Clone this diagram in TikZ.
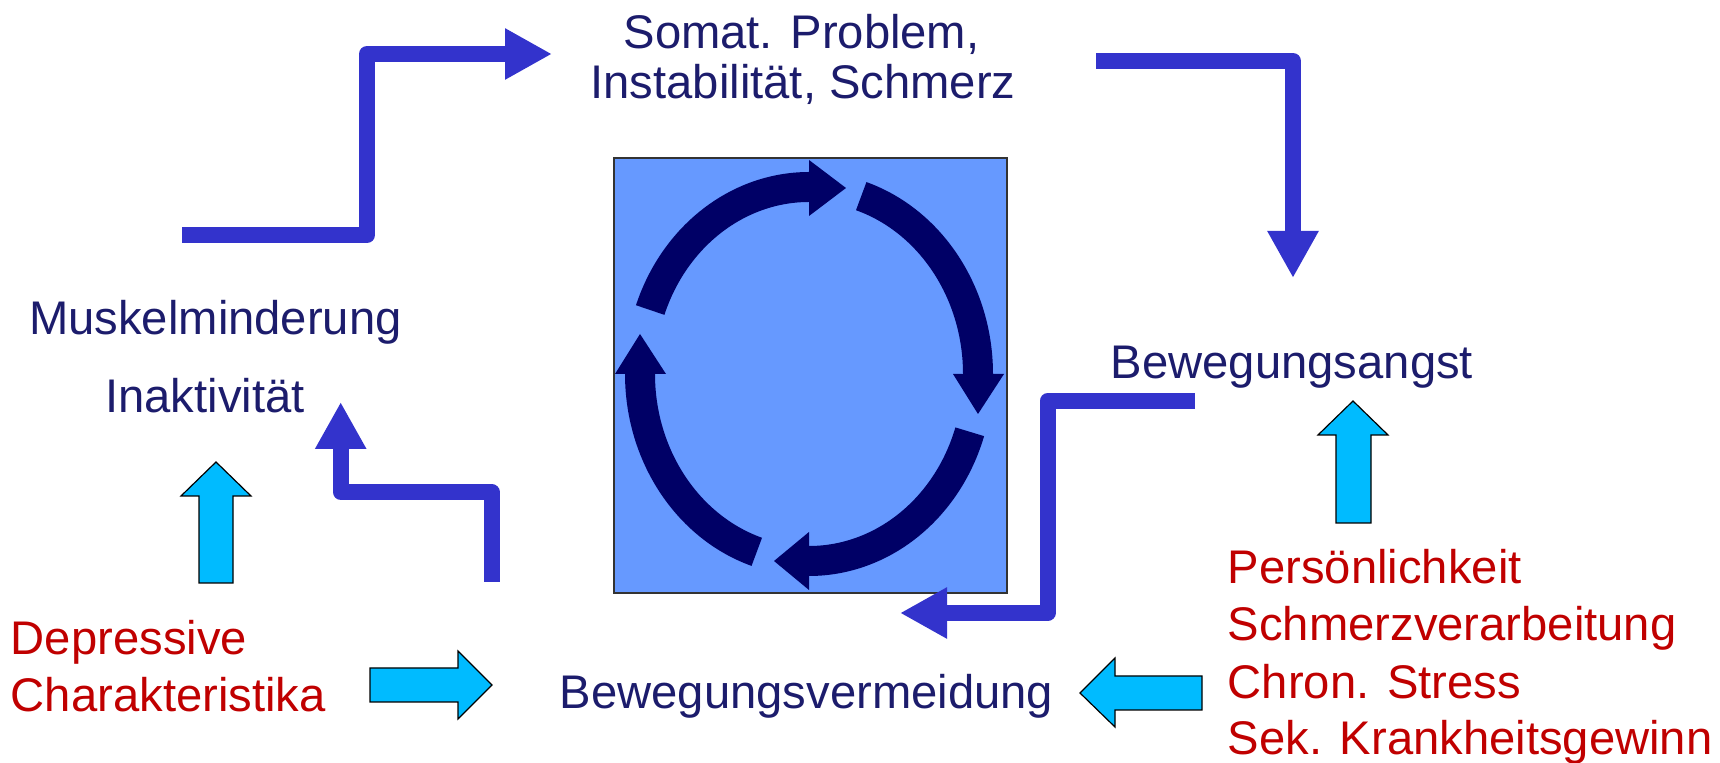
\documentclass[tikz,border=0pt]{standalone}
\usepackage{fontspec}
\setmainfont{Liberation Sans}
\usetikzlibrary{arrows.meta}
\definecolor{txtnavy}{RGB}{28,28,108}
\definecolor{txtred}{RGB}{192,0,0}
\definecolor{flowblue}{RGB}{51,51,204}
\definecolor{cycnavy}{RGB}{0,0,102}
\definecolor{boxblue}{RGB}{102,153,255}
\definecolor{cyanblk}{RGB}{0,187,255}
\begin{document}
\begin{tikzpicture}[x=0.5pt,y=-0.5pt,
  lbl/.style={inner sep=0pt, anchor=base, font=\fontsize{23.6pt}{28pt}\selectfont, text=txtnavy},
  redlbl/.style={inner sep=0pt, anchor=base west, font=\fontsize{23.6pt}{28pt}\selectfont, text=txtred},
  flow/.style={draw=flowblue, line width=8pt, line join=round, -{Triangle[length=23.5pt,width=24pt]}},
  cyc/.style={draw=cycnavy, line width=15pt},
  cychead/.style={fill=cycnavy},
  block/.style={fill=cyanblk, draw=black, line width=0.6pt, line join=miter}]
\useasboundingbox (0,0) rectangle (1720,763);

% central box with cycle
\node (loop) [rectangle, fill=boxblue, draw=black!80, line width=0.8pt, inner sep=0pt,
  minimum width=196.35pt, minimum height=217.5pt] at (810.35,375.8) {};
\coordinate (c) at (809,374);
\draw[cyc] (c) ++(-160:169 and 187) arc[start angle=-160, end angle=-90, x radius=169, y radius=187];
\fill[cychead] (809,160) -- (809,216) -- (846,188) -- cycle;
\draw[cyc] (c) ++(-72:169 and 187) arc[start angle=-72, end angle=0, x radius=169, y radius=187];
\fill[cychead] (953,374) -- (1004,374) -- (978,414) -- cycle;
\draw[cyc] (c) ++(18:169 and 187) arc[start angle=18, end angle=90, x radius=169, y radius=187];
\fill[cychead] (809,532) -- (809,590) -- (774,561) -- cycle;
\draw[cyc] (c) ++(108:169 and 187) arc[start angle=108, end angle=180, x radius=169, y radius=187];
\fill[cychead] (615,374) -- (666,374) -- (640,334) -- cycle;

% labels
\node[lbl] (som1) at (801.5,48.3) {Somat. Problem,};
\node[lbl] (som2) at (803,98.3) {Instabilität, Schmerz};
\node[lbl] (musk) at (215.5,335) {Muskelminderung};
\node[lbl] (inak) at (205,413) {Inaktivität};
\node[lbl] (angst) at (1292,378.3) {Bewegungsangst};
\node[lbl] (verm) at (806.5,708.3) {Bewegungsvermeidung};
\node[redlbl] (dep1) at (10.5,655) {Depressive};
\node[redlbl] (dep2) at (10.5,711.7) {Charakteristika};
\node[redlbl] (pers1) at (1227.5,583.3) {Persönlichkeit};
\node[redlbl] (pers2) at (1227.5,641) {Schmerzverarbeitung};
\node[redlbl] (pers3) at (1227.5,698.3) {Chron. Stress};
\node[redlbl] (pers4) at (1227.5,755) {Sek. Krankheitsgewinn};

% elbow connectors
\coordinate (A0) at (182,235);   \coordinate (A1) at (552,54);
\coordinate (B0) at (1096,61);   \coordinate (B1) at (1293,278);
\coordinate (C0) at (1195,401);  \coordinate (C1) at (900,613);
\coordinate (D0) at (491.5,582); \coordinate (D1) at (340.7,402);
\draw[flow] (A0) -- ++(185,0) |- (A1);
\draw[flow] (B0) -| (B1);
\draw[flow] (C0) -- ++(-147.5,0) |- (C1);
\draw[flow] (D0) -- ++(0,-90) -| (D1);

% cyan block arrows
\draw[block] (199,583) -- (233,583) -- (233,496) -- (251,496) -- (216,462) -- (181,496) -- (199,496) -- cycle;
\draw[block] (1336,523) -- (1371,523) -- (1371,435) -- (1388,435) -- (1353,401) -- (1318,435) -- (1336,435) -- cycle;
\draw[block] (370,668) -- (458,668) -- (458,651) -- (492,685) -- (458,719) -- (458,702) -- (370,702) -- cycle;
\draw[block] (1202,676) -- (1115,676) -- (1115,658) -- (1080,693) -- (1115,727) -- (1115,710) -- (1202,710) -- cycle;
\end{tikzpicture}
\end{document}
